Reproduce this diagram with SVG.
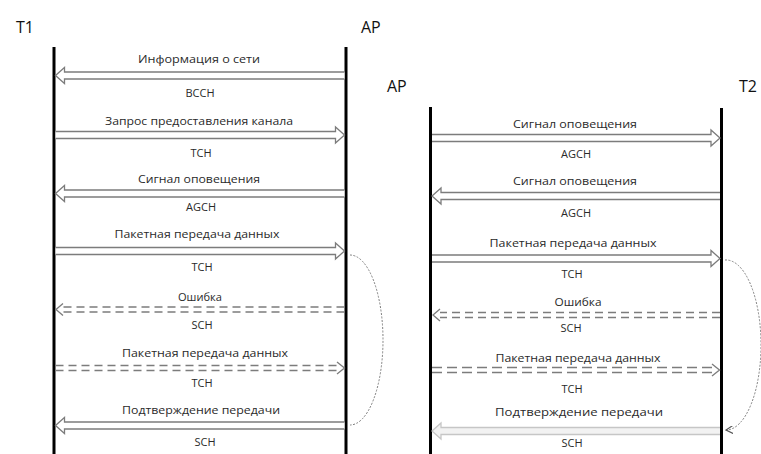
<svg xmlns="http://www.w3.org/2000/svg" width="761" height="454" viewBox="0 0 761 454">
<style>
.t{font-family:"Open Sans","Liberation Sans",sans-serif;font-size:11px;fill:#2a2a2a;text-anchor:middle}
.h{font-family:"Open Sans","Liberation Sans",sans-serif;font-size:16px;fill:#111}
.life{stroke:#000;stroke-width:3;fill:none}
.ar{fill:#fff;stroke:#7c7c7c;stroke-width:1.3;stroke-linejoin:miter}
.arl{fill:#f2f2f2;stroke:#c6c6c6;stroke-width:1.3}
.ds{stroke:#7c7c7c;stroke-width:1.3;stroke-dasharray:8 5;fill:none}
.hd{stroke:#7c7c7c;stroke-width:1.3;fill:none}
.arc{stroke:#808080;stroke-width:1;stroke-dasharray:2 1.5;fill:none}
</style>
<defs>
<marker id="m" markerWidth="8" markerHeight="8" refX="6" refY="4" orient="auto" markerUnits="userSpaceOnUse">
<path d="M0,0 L7,4 L0,8" fill="none" stroke="#555" stroke-width="1.2"/>
</marker>
</defs>
<g id="T1">
<text class="h" x="16" y="33">T1</text>
<line class="life" x1="54" y1="47" x2="54" y2="454"/>
</g>
<g id="AP1">
<text class="h" x="361" y="33">AP</text>
<line class="life" x1="346" y1="47" x2="346" y2="454"/>
</g>
<g id="AP2">
<text class="h" x="387" y="92">AP</text>
<line class="life" x1="430.5" y1="107" x2="430.5" y2="454"/>
</g>
<g id="T2">
<text class="h" x="739" y="92">T2</text>
<line class="life" x1="721.5" y1="108" x2="721.5" y2="454"/>
</g>
<g id="connectors">
<path class="ar" d="M344.5,72 H64.5 V67.5 L55.5,75.5 L64.5,83.5 V79 H344.5"/>
<path class="ar" d="M55.5,131.5 H335.5 V127 L344.5,135 L335.5,143 V138.5 H55.5"/>
<path class="ar" d="M344.5,190 H64.5 V185.5 L55.5,193.5 L64.5,201.5 V197 H344.5"/>
<path class="ar" d="M55.5,247.5 H335.5 V243 L344.5,251 L335.5,259 V254.5 H55.5"/>
<line class="ds" x1="344.5" y1="307" x2="62" y2="307"/>
<line class="ds" x1="344.5" y1="312" x2="62" y2="312"/>
<path class="hd" d="M63,303.5 L56,309.5 L63,315.5"/>
<line class="ds" x1="55.5" y1="365.5" x2="338" y2="365.5"/>
<line class="ds" x1="55.5" y1="370.5" x2="338" y2="370.5"/>
<path class="hd" d="M337,362 L344.5,368 L337,374"/>
<path class="ar" d="M344.5,422 H64.5 V417.5 L55.5,425.5 L64.5,433.5 V429 H344.5"/>
<path class="arc" d="M350,255 A33,85 0 0 1 350,425"/>

<path class="ar" d="M432,134.5 H711 V130 L720,138 L711,146 V141.5 H432"/>
<path class="ar" d="M720,192.5 H441 V188 L432,196 L441,204 V199.5 H720"/>
<path class="ar" d="M432,255 H711 V250.5 L720,258.5 L711,266.5 V262 H432"/>
<line class="ds" x1="720" y1="312.5" x2="440" y2="312.5"/>
<line class="ds" x1="720" y1="317.5" x2="440" y2="317.5"/>
<path class="hd" d="M440,309 L433,315 L440,321"/>
<line class="ds" x1="432" y1="367.5" x2="712" y2="367.5" style="stroke-dasharray:10 5"/>
<line class="ds" x1="432" y1="372.5" x2="712" y2="372.5" style="stroke-dasharray:10 5"/>
<path class="hd" d="M712,364 L719.5,370 L712,376"/>
<path class="arl" d="M720,427.5 H441 V423 L432,431 L441,439 V434.5 H720"/>
<path class="arc" d="M725,260 A35,85 0 0 1 727,430" marker-end="url(#m)"/>
</g>
<g id="labels">
<text class="t" x="199" y="63" textLength="122" lengthAdjust="spacingAndGlyphs">Информация о сети</text>
<text class="t" x="200" y="97">BCCH</text>
<text class="t" x="199" y="125" textLength="188" lengthAdjust="spacingAndGlyphs">Запрос предоставления канала</text>
<text class="t" x="201" y="157">TCH</text>
<text class="t" x="199" y="183" textLength="122" lengthAdjust="spacingAndGlyphs">Сигнал оповещения</text>
<text class="t" x="201" y="211">AGCH</text>
<text class="t" x="197" y="238" textLength="165" lengthAdjust="spacingAndGlyphs">Пакетная передача данных</text>
<text class="t" x="202" y="271">TCH</text>
<text class="t" x="200" y="301" textLength="44" lengthAdjust="spacingAndGlyphs">Ошибка</text>
<text class="t" x="202" y="329">SCH</text>
<text class="t" x="205" y="357" textLength="166" lengthAdjust="spacingAndGlyphs">Пакетная передача данных</text>
<text class="t" x="202" y="387">TCH</text>
<text class="t" x="201" y="414" textLength="158" lengthAdjust="spacingAndGlyphs">Подтверждение передачи</text>
<text class="t" x="205" y="446">SCH</text>

<text class="t" x="575" y="128" textLength="124" lengthAdjust="spacingAndGlyphs">Сигнал оповещения</text>
<text class="t" x="576" y="158">AGCH</text>
<text class="t" x="575" y="185" textLength="124" lengthAdjust="spacingAndGlyphs">Сигнал оповещения</text>
<text class="t" x="576" y="217">AGCH</text>
<text class="t" x="573" y="247" textLength="167" lengthAdjust="spacingAndGlyphs">Пакетная передача данных</text>
<text class="t" x="572" y="278">TCH</text>
<text class="t" x="578" y="306" textLength="47" lengthAdjust="spacingAndGlyphs">Ошибка</text>
<text class="t" x="571" y="332">SCH</text>
<text class="t" x="578" y="362" textLength="165" lengthAdjust="spacingAndGlyphs">Пакетная передача данных</text>
<text class="t" x="572" y="393">TCH</text>
<text class="t" x="579" y="416" textLength="168" lengthAdjust="spacingAndGlyphs">Подтверждение передачи</text>
<text class="t" x="572" y="447">SCH</text>
</g>
</svg>
